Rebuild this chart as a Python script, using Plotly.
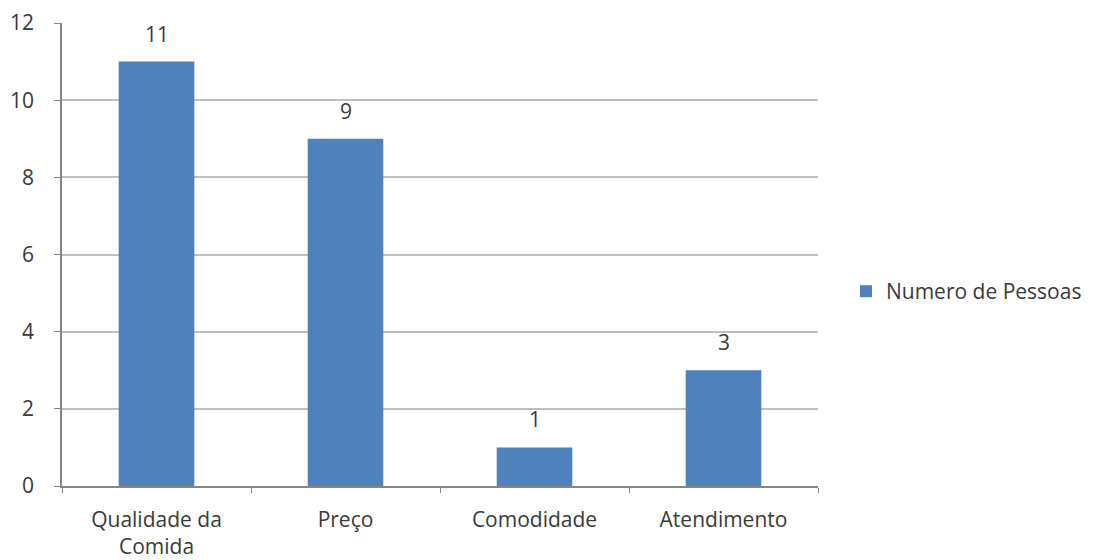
import plotly.graph_objects as go

categories = ["Qualidade da<br>Comida", "Preço", "Comodidade", "Atendimento"]
values = [11, 9, 1, 3]
series_name = "Numero de Pessoas"
y_ticks = [0, 2, 4, 6, 8, 10, 12]

font_family = "Open Sans, Liberation Sans, sans-serif"
txt_color = "#3a3a3a"
fsize = 21

fig = go.Figure()
fig.add_trace(go.Bar(
    x=categories, y=values, name=series_name,
    marker=dict(color="#4F81BD", line=dict(width=0)),
))

for c, v in zip(categories, values):
    fig.add_annotation(
        x=c, y=v, text=str(v), showarrow=False,
        yanchor="bottom", yshift=12,
        font=dict(size=fsize, color=txt_color, family=font_family),
    )

fig.update_layout(
    width=1099, height=560,
    margin=dict(l=62, r=279, t=23, b=74),
    plot_bgcolor="white", paper_bgcolor="white",
    bargap=0.6,
    showlegend=True,
    legend=dict(x=1.037, y=0.42, xanchor="left", yanchor="middle",
                font=dict(size=fsize, color=txt_color, family=font_family),
                itemwidth=30),
    font=dict(family=font_family, color=txt_color),
)
fig.update_xaxes(
    automargin=False,
    showline=True, linecolor="#868686", linewidth=1.5,
    ticks="outside", tickson="boundaries", ticklen=5, tickcolor="#868686",
    ticklabelstandoff=14,
    tickfont=dict(size=fsize, color=txt_color, family=font_family),
    showgrid=False,
)
fig.update_yaxes(
    automargin=False,
    range=[0, 12], tickvals=y_ticks,
    showline=True, linecolor="#868686", linewidth=1.5,
    ticks="outside", ticklen=6, tickcolor="#868686",
    ticklabelstandoff=16,
    showgrid=True, gridcolor="#BFBFBF", gridwidth=1.5,
    tickfont=dict(size=fsize, color=txt_color, family=font_family),
    zeroline=False,
)

fig.write_html("out.html")
